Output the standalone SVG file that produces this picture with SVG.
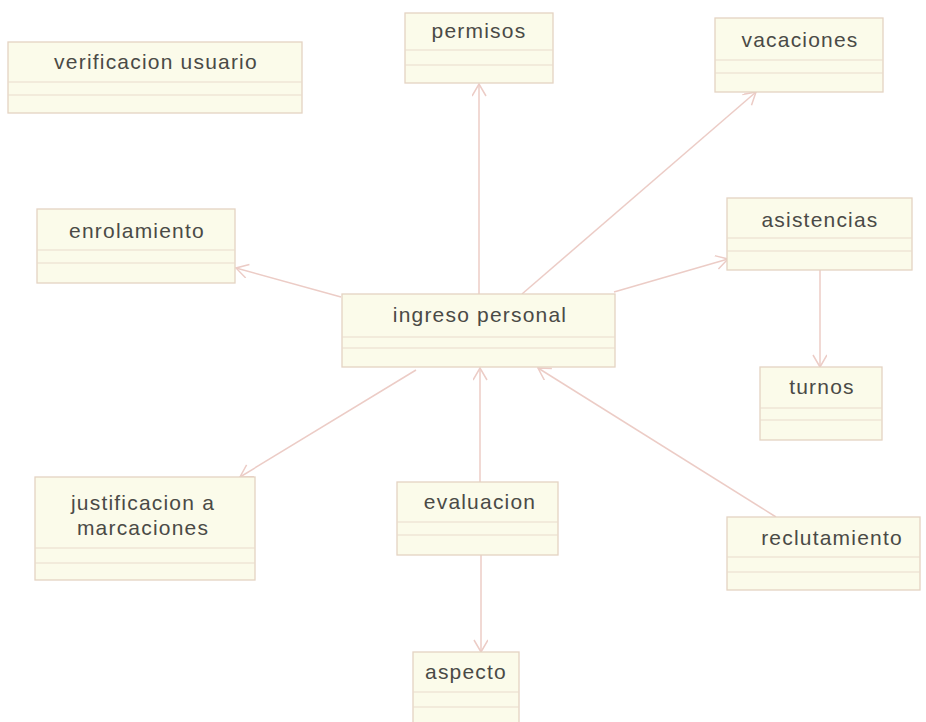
<svg xmlns="http://www.w3.org/2000/svg" width="926" height="722" viewBox="0 0 926 722">
<style>
.box{fill:#fbfbea;stroke:#e4d3c2;stroke-width:1.3}
.div{stroke:#eadccb;stroke-width:1.2}
.lbl{font-family:"Liberation Sans",Arial,sans-serif;font-size:21px;letter-spacing:1.2px;fill:#4a4a46;text-anchor:middle}
.con{stroke:#ecccc6;stroke-width:1.5;fill:none;marker-end:url(#arr)}
</style>
<defs>
<marker id="arr" markerUnits="userSpaceOnUse" markerWidth="16" markerHeight="16" refX="13" refY="7" orient="auto">
<path d="M1,0 L13,7 L1,14" fill="none" stroke="#ecccc6" stroke-width="1.5"/>
</marker>
</defs>
<rect width="926" height="722" fill="#ffffff"/>
<g id="connectors">
<path class="con" d="M479,294 L479,84"/>
<path class="con" d="M522,294 L756,92"/>
<path class="con" d="M341,297 L236,268"/>
<path class="con" d="M614,292 L728,259"/>
<path class="con" d="M820,270 L820,367"/>
<path class="con" d="M416,370 L240,477"/>
<path class="con" d="M480,482 L480,368"/>
<path class="con" d="M776,517 L538,368"/>
<path class="con" d="M481,555 L481,652"/>
</g>
<g id="verificacion_usuario">
<rect class="box" x="8" y="42" width="294" height="71"/>
<line class="div" x1="8" y1="82" x2="302" y2="82"/>
<line class="div" x1="8" y1="95" x2="302" y2="95"/>
<text class="lbl" x="156" y="69">verificacion usuario</text>
</g>
<g id="permisos">
<rect class="box" x="405" y="13" width="148" height="70"/>
<line class="div" x1="405" y1="50" x2="553" y2="50"/>
<line class="div" x1="405" y1="65" x2="553" y2="65"/>
<text class="lbl" x="479" y="38">permisos</text>
</g>
<g id="vacaciones">
<rect class="box" x="715" y="18" width="168" height="74"/>
<line class="div" x1="715" y1="60" x2="883" y2="60"/>
<line class="div" x1="715" y1="73" x2="883" y2="73"/>
<text class="lbl" x="800" y="47">vacaciones</text>
</g>
<g id="enrolamiento">
<rect class="box" x="37" y="209" width="198" height="74"/>
<line class="div" x1="37" y1="250" x2="235" y2="250"/>
<line class="div" x1="37" y1="263" x2="235" y2="263"/>
<text class="lbl" x="137" y="238">enrolamiento</text>
</g>
<g id="ingreso_personal">
<rect class="box" x="342" y="294" width="273" height="73"/>
<line class="div" x1="342" y1="337" x2="615" y2="337"/>
<line class="div" x1="342" y1="348" x2="615" y2="348"/>
<text class="lbl" x="480" y="322">ingreso personal</text>
</g>
<g id="asistencias">
<rect class="box" x="727" y="198" width="185" height="72"/>
<line class="div" x1="727" y1="238" x2="912" y2="238"/>
<line class="div" x1="727" y1="251" x2="912" y2="251"/>
<text class="lbl" x="820" y="227">asistencias</text>
</g>
<g id="turnos">
<rect class="box" x="760" y="367" width="122" height="73"/>
<line class="div" x1="760" y1="408" x2="882" y2="408"/>
<line class="div" x1="760" y1="420" x2="882" y2="420"/>
<text class="lbl" x="822" y="394">turnos</text>
</g>
<g id="justificacion_a_marcaciones">
<rect class="box" x="35" y="477" width="220" height="103"/>
<line class="div" x1="35" y1="548" x2="255" y2="548"/>
<line class="div" x1="35" y1="563" x2="255" y2="563"/>
<text class="lbl" x="143" y="510">justificacion a</text>
<text class="lbl" x="143" y="535">marcaciones</text>
</g>
<g id="evaluacion">
<rect class="box" x="397" y="482" width="161" height="73"/>
<line class="div" x1="397" y1="522" x2="558" y2="522"/>
<line class="div" x1="397" y1="535" x2="558" y2="535"/>
<text class="lbl" x="480" y="509">evaluacion</text>
</g>
<g id="reclutamiento">
<rect class="box" x="727" y="517" width="193" height="73"/>
<line class="div" x1="727" y1="557" x2="920" y2="557"/>
<line class="div" x1="727" y1="572" x2="920" y2="572"/>
<text class="lbl" x="832" y="545">reclutamiento</text>
</g>
<g id="aspecto">
<rect class="box" x="413" y="652" width="106" height="75"/>
<line class="div" x1="413" y1="692" x2="519" y2="692"/>
<line class="div" x1="413" y1="707" x2="519" y2="707"/>
<text class="lbl" x="466" y="679">aspecto</text>
</g>
</svg>
